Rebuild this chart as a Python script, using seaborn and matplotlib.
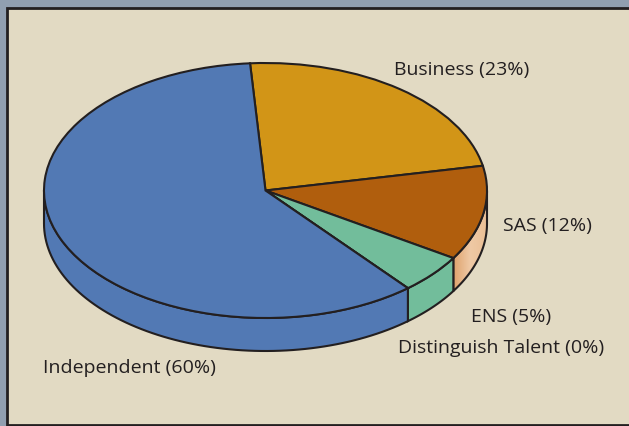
import numpy as np
import matplotlib
matplotlib.use('Agg')
import matplotlib.pyplot as plt
from matplotlib.patches import Polygon, Rectangle
from matplotlib.colors import LinearSegmentedColormap
import seaborn as sns

categories = ['Business', 'SAS', 'ENS', 'Distinguish Talent', 'Independent']
shares = [23, 12, 5, 0, 60]
top_colors = ['#D29517', '#B05E0D', '#72BD9B', '#72BD9B', '#5279B4']
side_colors = ['#D29517', None, '#72BD9B', '#72BD9B', '#5279B4']

# label anchor in pixels (left edge, vertical centre)
label_x = [394, 503, 471, 398, 43]
label_y = [70, 226, 317, 348, 368]

W, H = 629, 427
ink = '#231F20'
start = 94
depth = 33 / 127.5  # rim height, in units of the vertical radius

sns.set_theme(style='white')
plt.rcParams['font.family'] = ['Open Sans', 'DejaVu Sans']

fig = plt.figure(figsize=(W / 100, H / 100), dpi=100, facecolor='#919FB0')

# panel with dark border on left, top, bottom
fig.add_artist(Rectangle((7 / W, 1.5 / H), (W + 10) / W, (H - 10) / H, transform=fig.transFigure,
                         facecolor='#E2DAC3', edgecolor=ink, linewidth=2, zorder=-1))

# the axes box is exactly the bounding box of the top ellipse
ax = fig.add_axes([44 / W, (H - 319) / H, 443 / W, 255 / H])

# rim first, the top of the pie goes over it
peach = LinearSegmentedColormap.from_list('peach', ['#DFA26C', '#EFC9A5', '#EBC096'])
edges = start - np.cumsum([0] + shares) * 3.6
for a, b, col in zip(edges[:-1], edges[1:], side_colors):
    lo = max(b, -180)
    hi = min(a, 0)
    if lo >= hi:
        continue
    t = np.radians(np.linspace(hi, lo, 80))
    xs = np.r_[np.cos(t), np.cos(t[::-1])]
    ys = np.r_[np.sin(t), np.sin(t[::-1]) - depth]
    face = Polygon(np.c_[xs, ys], closed=True, facecolor=col or 'none', edgecolor=ink,
                   linewidth=1.5, clip_on=False, zorder=1)
    ax.add_patch(face)
    if col is None:
        # the SAS rim fades from dark at the seam to light at the outer edge
        img = ax.imshow(np.linspace(0, 1, 64)[None, :], cmap=peach, aspect='auto', zorder=0.5,
                        extent=(xs.min(), xs.max(), ys.min(), ys.max()))
        img.set_clip_path(face)

wedges, _ = ax.pie(shares, colors=top_colors, startangle=start, counterclock=False, radius=1,
                   wedgeprops={'edgecolor': ink, 'linewidth': 1.5, 'clip_on': False, 'zorder': 2})
ax.set_aspect('auto')
ax.set_xlim(-1, 1)
ax.set_ylim(-1, 1)
ax.axis('off')

for name, share, x, y in zip(categories, shares, label_x, label_y):
    fig.text(x / W, 1 - y / H, f'{name} ({share}%)', fontsize=14, color=ink, ha='left', va='center')

fig.savefig('out.png', dpi=100, facecolor=fig.get_facecolor())
